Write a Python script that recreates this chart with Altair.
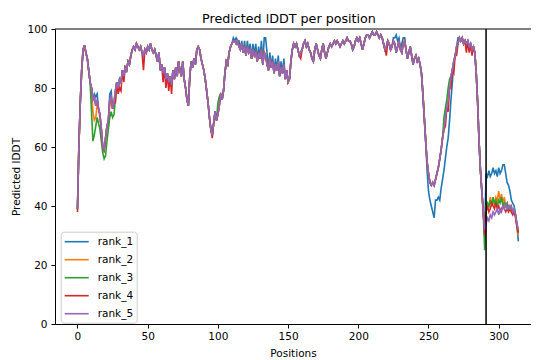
import altair as alt
import pandas as pd

positions = list(range(315))

# consensus trace (rank_5 follows it after the cut-off)
base = [
    39, 60, 75, 86, 93, 94.5, 92, 90, 86, 82,
    80, 76, 77, 74, 76, 73, 71, 66, 60, 59,
    63, 67, 69, 76, 77, 73, 75, 79, 82, 80,
    83, 82, 86, 84, 87, 86, 89, 88, 91, 93,
    94, 93, 95, 94, 93, 94, 92, 91, 93, 92,
    94, 93, 95, 93, 92, 93, 91, 89, 92, 86,
    88, 85, 87, 83, 85, 82, 84, 81, 86, 83,
    87, 84, 89, 86, 84, 89, 83, 80, 76, 74,
    84, 89, 87, 90, 88, 93, 94, 93, 90, 88,
    86, 83, 79, 75, 70, 66, 64, 68, 72, 69,
    71, 74, 78, 76, 79, 85, 89, 88, 92, 94,
    95, 96, 96, 95, 96, 94, 93, 95, 92, 94,
    91, 94, 92, 93, 90, 93, 91, 92, 89, 92,
    90, 93, 88, 92, 91, 88, 86, 90, 87, 89,
    85, 88, 86, 89, 84, 87, 85, 88, 83, 86,
    82, 83, 89, 93, 95, 94, 95, 93, 91, 92,
    93, 95, 96, 94, 95, 93, 92, 90, 89, 93,
    95, 93, 91, 90, 93, 95, 92, 90, 92, 94,
    95, 94, 95, 96, 95, 96, 95, 94, 95, 96,
    95, 96, 97, 96, 96, 95, 93, 94, 96, 97,
    96, 97, 95, 93, 95, 97, 98, 98, 97, 98,
    99, 98, 98, 99, 98, 97, 98, 97, 95, 93,
    94, 96, 95, 93, 94, 96, 95, 92, 94, 96,
    93, 92, 95, 96, 93, 90, 92, 94, 91, 88,
    90, 91, 89, 90, 88, 85, 78, 70, 62, 55,
    51, 48, 47, 48, 47, 49, 51, 53, 56, 59,
    63, 66, 70, 73, 76, 80, 84, 86, 89, 91,
    94, 95, 97, 96, 97, 95, 96, 95, 96, 94,
    95, 93, 94, 92, 85, 75, 62, 52, 45, 38,
    32, 34, 36, 35, 37, 36, 38, 37, 38, 39,
    37, 39, 38, 40, 39, 41, 39, 40, 39, 40,
    38, 39, 37, 34, 32,
]

rank_1_diff = {
    12: 78, 13: 77, 14: 78, 23: 78, 24: 79,
    111: 97, 113: 97, 115: 96, 117: 96, 119: 96, 121: 96, 123: 95, 125: 95,
    127: 95, 129: 94, 131: 96, 133: 97, 134: 97, 135: 92, 137: 92, 139: 91,
    141: 90, 143: 91, 145: 89, 147: 90,
    225: 97, 226: 97, 227: 98, 228: 96, 229: 97, 231: 95, 232: 97, 233: 97,
    249: 52, 250: 45, 251: 42, 252: 40, 253: 38, 254: 36, 255: 42, 256: 42,
    257: 43, 258: 42, 259: 46, 260: 49, 261: 52, 262: 56, 263: 60, 264: 63,
    265: 69, 266: 76, 267: 82, 271: 97,
    290: 31, 291: 51, 292: 50, 293: 52, 294: 50, 295: 51, 296: 53, 297: 51,
    298: 52, 299: 50, 300: 53, 301: 51, 302: 52, 303: 54, 304: 54, 305: 51,
    306: 48, 307: 47, 308: 45, 309: 42, 310: 41, 311: 40, 312: 37, 313: 33,
    314: 28,
}
rank_2_diff = {
    11: 72, 12: 69, 13: 70, 14: 74, 16: 70, 18: 60, 19: 58, 22: 68, 23: 74,
    290: 30, 291: 40, 292: 41, 293: 40, 294: 43, 295: 41, 296: 42, 297: 40,
    298: 43, 299: 42, 300: 45, 301: 42, 302: 44, 303: 41, 304: 43, 305: 40,
    306: 41, 307: 39, 308: 40, 309: 38, 310: 39, 311: 38, 312: 37, 313: 33,
    314: 30,
}
rank_3_diff = {
    10: 72, 11: 62, 12: 64, 13: 67, 14: 70, 15: 68, 16: 66, 17: 62, 18: 58,
    19: 56, 20: 57, 21: 62, 22: 66, 23: 70, 24: 72, 25: 70, 26: 71, 27: 76,
    100: 75, 101: 77,
    261: 70, 262: 73, 263: 76, 264: 80, 265: 83,
    290: 25, 291: 38, 292: 41, 293: 40, 294: 42, 295: 40, 296: 43, 297: 41,
    298: 42, 299: 40, 300: 42, 301: 41, 302: 43, 303: 40, 304: 41, 305: 40,
    306: 41, 307: 39, 308: 40, 309: 39, 310: 38, 311: 39, 312: 37, 313: 34,
    314: 31,
}
rank_4_diff = {
    0: 38, 27: 75, 29: 78, 30: 80, 31: 79, 33: 82, 47: 86,
    61: 82, 63: 80, 65: 79, 67: 78, 96: 63, 159: 90, 220: 91,
    262: 67, 264: 72, 266: 80, 268: 85, 270: 91, 277: 92, 279: 92, 281: 91,
    290: 30, 291: 38, 292: 40, 293: 38, 294: 39, 295: 41, 296: 40, 297: 39,
    298: 41, 299: 39, 300: 40, 301: 38, 302: 39, 303: 40, 304: 39, 305: 38,
    306: 39, 307: 38, 308: 39, 309: 38, 310: 37, 311: 38, 312: 36, 313: 33,
    314: 31,
}
rank_5_diff = {}

ranks = ["rank_1", "rank_2", "rank_3", "rank_4", "rank_5"]
diffs = [rank_1_diff, rank_2_diff, rank_3_diff, rank_4_diff, rank_5_diff]
colors = ["#1f77b4", "#ff7f0e", "#2ca02c", "#d62728", "#9467bd"]
cutoff = [291]
x_ticks = [0, 50, 100, 150, 200, 250, 300]
y_ticks = [0, 20, 40, 60, 80, 100]

rows = []
for name, d in zip(ranks, diffs):
    vals = list(base)
    for p, v in d.items():
        vals[p] = v
    for p, v in zip(positions, vals):
        rows.append({"pos": p, "plddt": v, "rank": name})
df = pd.DataFrame(rows)

FONT = "DejaVu Sans"

lines = alt.Chart(df).mark_line(strokeWidth=1.6, clip=True).encode(
    x=alt.X("pos:Q",
            scale=alt.Scale(domain=[-16, 323], nice=False, zero=False),
            axis=alt.Axis(values=x_ticks, title="Positions", grid=False,
                          labelPadding=3, titlePadding=7)),
    y=alt.Y("plddt:Q",
            scale=alt.Scale(domain=[0, 100], nice=False),
            axis=alt.Axis(values=y_ticks, title="Predicted lDDT", grid=False,
                          labelPadding=4, titlePadding=5)),
    color=alt.Color("rank:N",
                    scale=alt.Scale(domain=ranks, range=colors),
                    legend=alt.Legend(orient="none", legendX=5.7, legendY=202.7,
                                      title=None, symbolType="M-1,0L3,0",
                                      symbolSize=144, symbolStrokeWidth=1.6,
                                      labelOffset=20, rowPadding=5, padding=3,
                                      strokeColor="#cccccc", fillColor="white",
                                      cornerRadius=3, labelFontSize=10.5,
                                      labelFont=FONT, labelColor="black")),
)

vline = alt.Chart(pd.DataFrame({"pos": cutoff})).mark_rule(
    color="black", strokeWidth=1.5).encode(x="pos:Q")
topline = alt.Chart(pd.DataFrame({"plddt": [100]})).mark_rule(
    color="black", strokeWidth=1).encode(y="plddt:Q")

chart = alt.layer(lines, vline, topline).properties(
    width=476, height=295,
    title=alt.TitleParams("Predicted lDDT per position", fontSize=12.7,
                          fontWeight="normal", font=FONT, anchor="middle",
                          frame="group", dx=-4, dy=3, offset=1, color="black"),
    padding={"left": 47, "top": 21, "right": 0, "bottom": 38},
    autosize="none",
).configure_view(stroke=None).configure_axis(
    domainColor="black", tickColor="black", tickSize=4, domainWidth=1,
    tickWidth=1, labelFontSize=10.5, titleFontSize=10.5, labelFont=FONT,
    titleFont=FONT, titleFontWeight="normal", labelColor="black",
    titleColor="black",
)

chart.save("out.html", embed_options={"renderer": "svg", "actions": False})
